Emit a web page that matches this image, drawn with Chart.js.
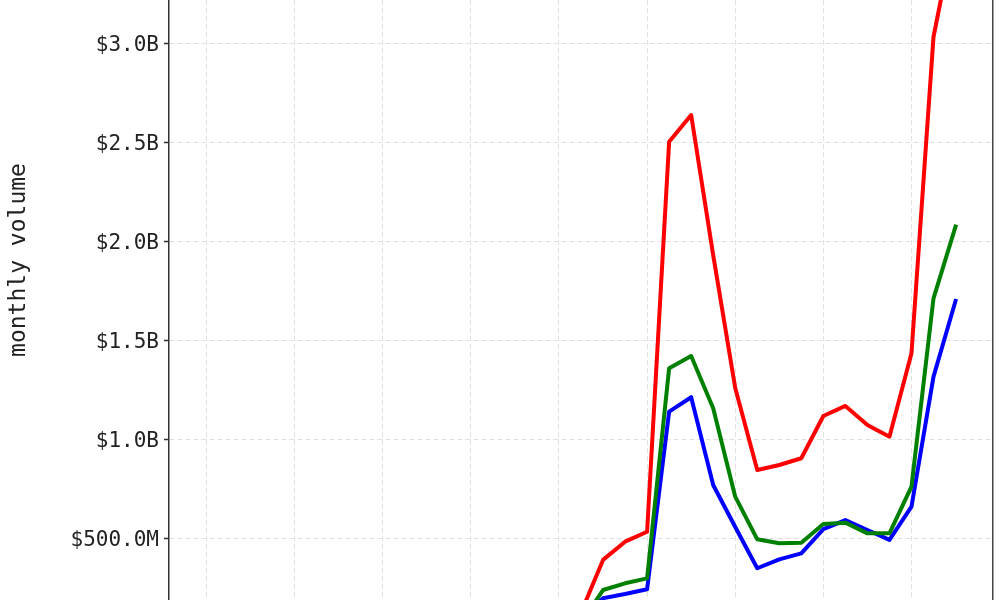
<!DOCTYPE html>
<html>
<head>
<meta charset="utf-8">
<script src="https://cdn.jsdelivr.net/npm/chart.js@4.4.1/dist/chart.umd.min.js"></script>
<style>
  html, body { margin: 0; padding: 0; background: #ffffff; overflow: hidden; width: 1000px; height: 600px; }
  #wrap { position: absolute; left: 0; top: -80px; width: 1000px; height: 680px; }
</style>
</head>
<body>
<div id="wrap"><canvas id="c" width="1000" height="680"></canvas></div>
<script>
// month index (x positions of monthly points)
const monthIdx = [0,1,2,3,4,5,6,7,8,9,10,11,12,13,14,15,16,17,18,19,20,21,22,23,24,25,26,27,28,29,30,31,32,33,34];
// monthly volume in billions of dollars (early months are below the visible range)
const redSeries   = [0.020,0.025,0.030,0.028,0.035,0.040,0.038,0.045,0.050,0.055,0.060,0.065,0.070,0.080,0.090,0.100,0.110,0.127,
                     0.393,0.485,0.535,2.503,2.638,1.931,1.261,0.847,0.872,0.906,1.119,1.170,1.074,1.015,1.436,3.033,3.590];
const greenSeries = [0.010,0.012,0.015,0.014,0.018,0.020,0.019,0.022,0.025,0.028,0.030,0.033,0.036,0.040,0.048,0.055,0.062,0.075,
                     0.241,0.275,0.300,1.360,1.422,1.158,0.712,0.497,0.477,0.480,0.574,0.581,0.527,0.527,0.763,1.713,2.075];
const blueSeries  = [0.008,0.010,0.012,0.012,0.015,0.017,0.016,0.019,0.021,0.024,0.027,0.030,0.034,0.040,0.050,0.060,0.072,0.090,
                     0.200,0.221,0.245,1.141,1.214,0.771,0.559,0.351,0.396,0.426,0.548,0.594,0.544,0.494,0.662,1.318,1.700];
// tick positions / labels
const xGridTicks = [0,4,8,12,16,20,24,28,32];
const yTickValues = [0.5,1.0,1.5,2.0,2.5,3.0];
const yTickLabels = ['$500.0M','$1.0B','$1.5B','$2.0B','$2.5B','$3.0B'];
const yTitle = 'monthly volume';

const toPts = arr => arr.map((v, i) => ({x: monthIdx[i], y: v}));
const FONT = "'DejaVu Sans Mono', monospace";
const GRID = '#e0e0e0';

const yMin = 0.1907, yMax = 3.6222;

function mkLine(label, data, color) {
  return { label, data: toPts(data), borderColor: color, backgroundColor: color,
           borderWidth: 4, pointRadius: 0, tension: 0, borderJoinStyle: 'round',
           borderCapStyle: 'square', fill: false };
}

new Chart(document.getElementById('c'), {
  type: 'line',
  data: { datasets: [
    mkLine('red', redSeries, '#ff0000'),
    mkLine('green', greenSeries, '#008000'),
    mkLine('blue', blueSeries, '#0000ff')
  ]},
  options: {
    responsive: false, animation: false,
    layout: { padding: 0 },
    plugins: { legend: { display: false }, tooltip: { enabled: false } },
    scales: {
      x: {
        type: 'linear', min: -1.7, max: 35.7,
        afterBuildTicks: s => { s.ticks = xGridTicks.map(v => ({value: v})); },
        ticks: { display: false },
        grid: { color: GRID, lineWidth: 1, drawTicks: false },
        border: { display: false, dash: [5, 3] },
        afterFit: s => { s.height = 0; s.paddingLeft = 0; s.paddingRight = 0; s.paddingTop = 0; s.paddingBottom = 0; }
      },
      y: {
        type: 'linear', position: 'left', min: yMin, max: yMax,
        afterBuildTicks: s => { s.ticks = yTickValues.map(v => ({value: v})); },
        ticks: {
          color: '#222', padding: 5, labelOffset: 2,
          font: { family: FONT, size: 21 },
          callback: (v) => { const i = yTickValues.indexOf(v); return i >= 0 ? yTickLabels[i] : ''; }
        },
        grid: { color: GRID, lineWidth: 1, tickLength: 5, tickColor: '#333', tickWidth: 1.5, tickBorderDash: [] },
        border: { display: true, color: '#333', width: 1.5, dash: [5, 3] },
        title: { display: true, text: yTitle, color: '#222', padding: { top: 5, bottom: 0 },
                 font: { family: FONT, size: 23, lineHeight: 1.2 } },
        afterFit: s => { s.width = 169; s.paddingTop = 0; s.paddingBottom = 0; }
      },
      yr: {
        type: 'linear', position: 'right', min: yMin, max: yMax,
        ticks: { display: false },
        grid: { drawOnChartArea: false, drawTicks: false },
        border: { display: true, color: '#444', width: 1.5 },
        afterFit: s => { s.width = 7; s.paddingTop = 0; s.paddingBottom = 0; }
      }
    }
  }
});
</script>
</body>
</html>
